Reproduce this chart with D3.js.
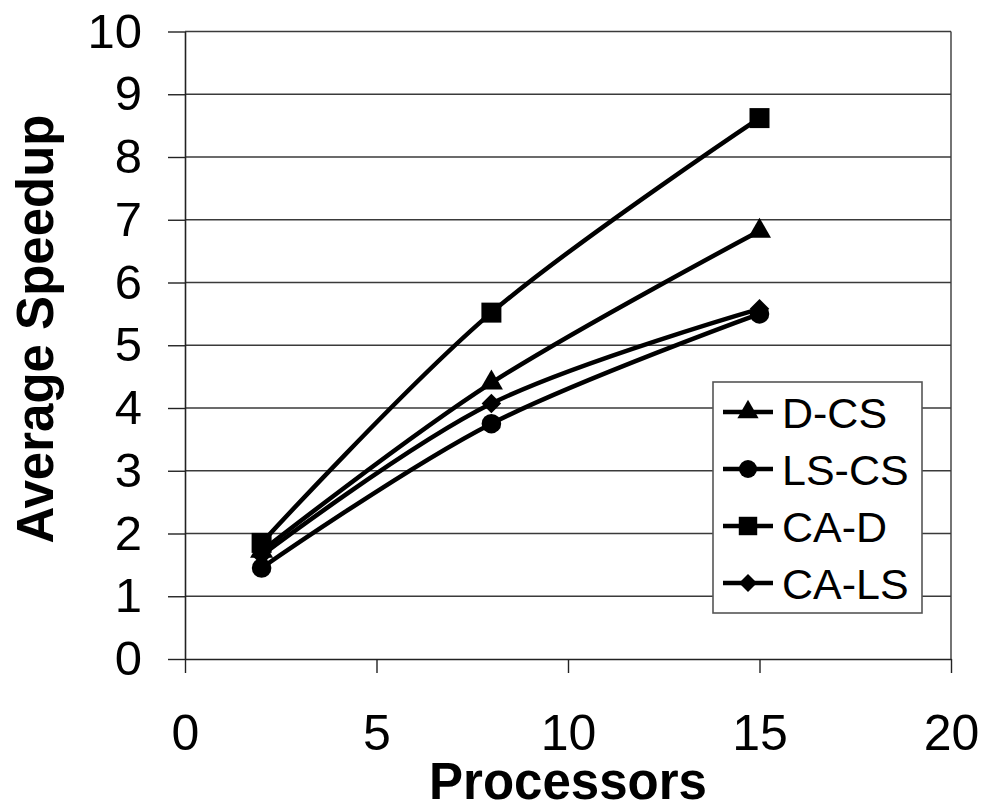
<!DOCTYPE html>
<html>
<head>
<meta charset="utf-8">
<script src="https://cdn.jsdelivr.net/npm/d3@7"></script>
<style>
  html, body { margin: 0; padding: 0; background: #fff; }
  svg { display: block; }
  text { font-family: "Liberation Sans", Arial, sans-serif; fill: #000; }
</style>
</head>
<body>
<svg id="chart" width="982" height="805"></svg>
<script>
// Processor counts on the x axis
const processors = [2, 8, 15];

// Average speedup per configuration
const seriesNames = ["D-CS", "LS-CS", "CA-D", "CA-LS"];
const dcs  = [1.72, 4.40, 6.82];
const lscs = [1.45, 3.75, 5.50];
const cad  = [1.85, 5.52, 8.62];
const cals = [1.65, 4.07, 5.58];
const seriesValues = [dcs, lscs, cad, cals];
const seriesMarkers = ["triangle", "circle", "square", "diamond"];

const xTicks = [0, 5, 10, 15, 20];
const yTicks = [0, 1, 2, 3, 4, 5, 6, 7, 8, 9, 10];

const svg = d3.select("#chart");
const plotLeft = 185, plotRight = 951, plotTop = 31.5, plotBottom = 659;

const x = d3.scaleLinear().domain([0, 20]).range([plotLeft, plotRight]);
const y = d3.scaleLinear().domain([0, 10]).range([plotBottom, plotTop]);

// Horizontal gridlines
svg.append("g")
  .selectAll("line")
  .data(yTicks.filter(d => d > 0))
  .join("line")
  .attr("x1", plotLeft).attr("x2", plotRight)
  .attr("y1", d => y(d)).attr("y2", d => y(d))
  .attr("stroke", "#3a3a3a").attr("stroke-width", 1.4);

// Right border of the plot area
svg.append("line")
  .attr("x1", plotRight).attr("x2", plotRight)
  .attr("y1", plotTop).attr("y2", plotBottom)
  .attr("stroke", "#3a3a3a").attr("stroke-width", 1.4);

// Y axis
const yAxis = svg.append("g")
  .attr("transform", `translate(${plotLeft},0)`)
  .call(d3.axisLeft(y).tickValues(yTicks).tickSize(17).tickPadding(26).tickSizeOuter(0));
yAxis.select(".domain").attr("stroke", "#222").attr("stroke-width", 1.6);
yAxis.selectAll(".tick line").attr("stroke", "#222").attr("stroke-width", 1.4);
yAxis.selectAll("text")
  .attr("font-size", 49)
  .attr("font-family", "Liberation Sans, Arial, sans-serif")
  .attr("fill", "#000");

// X axis
const xAxis = svg.append("g")
  .attr("transform", `translate(0,${plotBottom})`)
  .call(d3.axisBottom(x).tickValues(xTicks).tickSize(14).tickPadding(0).tickSizeOuter(0));
xAxis.select(".domain").attr("stroke", "#222").attr("stroke-width", 1.6);
xAxis.selectAll(".tick line").attr("stroke", "#222").attr("stroke-width", 1.4);
xAxis.selectAll("text")
  .attr("font-size", 50)
  .attr("font-family", "Liberation Sans, Arial, sans-serif")
  .attr("fill", "#000")
  .attr("dy", null)
  .attr("y", 91);

// Axis titles
svg.append("text")
  .attr("x", x(10)).attr("y", 799)
  .attr("text-anchor", "middle")
  .attr("font-size", 51).attr("font-weight", "bold")
  .text("Processors");

svg.append("text")
  .attr("transform", "translate(53,329) rotate(-90)")
  .attr("text-anchor", "middle")
  .attr("font-size", 51).attr("font-weight", "bold")
  .text("Average Speedup");

// Marker shapes; the diamond is a square turned by 45 degrees
const markerPath = (kind, s) => {
  const types = {
    triangle: d3.symbolTriangle,
    circle: d3.symbolCircle,
    square: d3.symbolSquare,
    diamond: d3.symbolSquare
  };
  return d3.symbol().type(types[kind]).size(s)();
};
const markerSize = { triangle: 230, circle: 300, square: 400, diamond: 190 };
const markerRotate = { triangle: 0, circle: 0, square: 0, diamond: 45 };

const line = d3.line()
  .x((d, i) => x(processors[i]))
  .y(d => y(d))
  .curve(d3.curveCardinal.tension(0));

const series = svg.append("g")
  .selectAll("g")
  .data(seriesValues.map((v, i) => ({ name: seriesNames[i], values: v, marker: seriesMarkers[i] })))
  .join("g");

series.append("path")
  .attr("d", d => line(d.values))
  .attr("fill", "none")
  .attr("stroke", "#000")
  .attr("stroke-width", 4.5);

series.each(function(s) {
  d3.select(this).selectAll("path.mk")
    .data(s.values)
    .join("path")
    .attr("class", "mk")
    .attr("d", markerPath(s.marker, markerSize[s.marker]))
    .attr("transform", (d, i) => `translate(${x(processors[i])},${y(d)}) rotate(${markerRotate[s.marker]})`)
    .attr("fill", "#000");
});

// Legend
const legend = svg.append("g");
legend.append("rect")
  .attr("x", 713).attr("y", 382)
  .attr("width", 209).attr("height", 231)
  .attr("fill", "#fff")
  .attr("stroke", "#555").attr("stroke-width", 1.6);

const rows = legend.selectAll("g.row")
  .data(seriesNames.map((n, i) => ({ name: n, marker: seriesMarkers[i] })))
  .join("g")
  .attr("class", "row")
  .attr("transform", (d, i) => `translate(0,${412 + i * 57})`);

rows.append("line")
  .attr("x1", 723).attr("x2", 773)
  .attr("stroke", "#000").attr("stroke-width", 4.5);
rows.append("path")
  .attr("d", d => markerPath(d.marker, markerSize[d.marker] * 0.85))
  .attr("transform", d => `translate(748,0) rotate(${markerRotate[d.marker]})`)
  .attr("fill", "#000");
rows.append("text")
  .attr("x", 782).attr("y", 15.5)
  .attr("font-size", 43)
  .text(d => d.name);
</script>
</body>
</html>
